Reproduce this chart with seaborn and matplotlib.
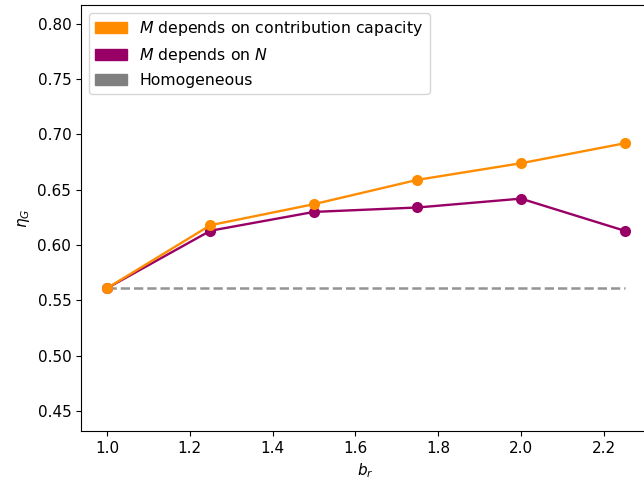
import matplotlib
matplotlib.use("Agg")
import matplotlib.pyplot as plt
import matplotlib.patches as mpatches
import seaborn as sns
import pandas as pd

b_r = [1.0, 1.25, 1.5, 1.75, 2.0, 2.25]
eta_capacity = [0.561, 0.618, 0.637, 0.659, 0.674, 0.692]
eta_N = [0.561, 0.613, 0.630, 0.634, 0.642, 0.613]
eta_homogeneous = 0.561

labels = ["$M$ depends on contribution capacity", "$M$ depends on $N$", "Homogeneous"]
colors = ["darkorange", "#990066", "gray"]

plt.rcParams['font.family'] = ['DejaVu Sans']
plt.rcParams['xtick.labelsize'] = 11
plt.rcParams['ytick.labelsize'] = 11
plt.rcParams['axes.labelsize'] = 11

fig = plt.figure(figsize=(6.44, 4.84), dpi=100)
ax = fig.add_axes([81/644, 53/484, (644-81)/644 + 0.01, (431-5)/484])

df_h = pd.DataFrame({"b_r": b_r, "eta": [eta_homogeneous] * len(b_r)})
sns.lineplot(data=df_h, x="b_r", y="eta", ax=ax, color=colors[2], linestyle="--",
             linewidth=1.8, alpha=0.85)
df_n = pd.DataFrame({"b_r": b_r, "eta": eta_N})
sns.lineplot(data=df_n, x="b_r", y="eta", ax=ax, color=colors[1], marker="o",
             markersize=8, markeredgewidth=0, linewidth=1.7)
df_c = pd.DataFrame({"b_r": b_r, "eta": eta_capacity})
sns.lineplot(data=df_c, x="b_r", y="eta", ax=ax, color=colors[0], marker="o",
             markersize=8, markeredgewidth=0, linewidth=1.7)

ax.set_xlim(0.9375, 2.3125)
ax.set_ylim(0.432, 0.817)
ax.set_yticks([0.45, 0.50, 0.55, 0.60, 0.65, 0.70, 0.75, 0.80])
ax.set_xticks([1.0, 1.2, 1.4, 1.6, 1.8, 2.0, 2.2])
ax.set_xlabel("$b_r$")
ax.set_ylabel("$\\eta_G$")

handles = [mpatches.Patch(color=c, label=l) for c, l in zip(colors, labels)]
ax.legend(handles=handles, loc="upper left", fontsize=11.3, frameon=True)

fig.savefig("out.png", dpi=100)
